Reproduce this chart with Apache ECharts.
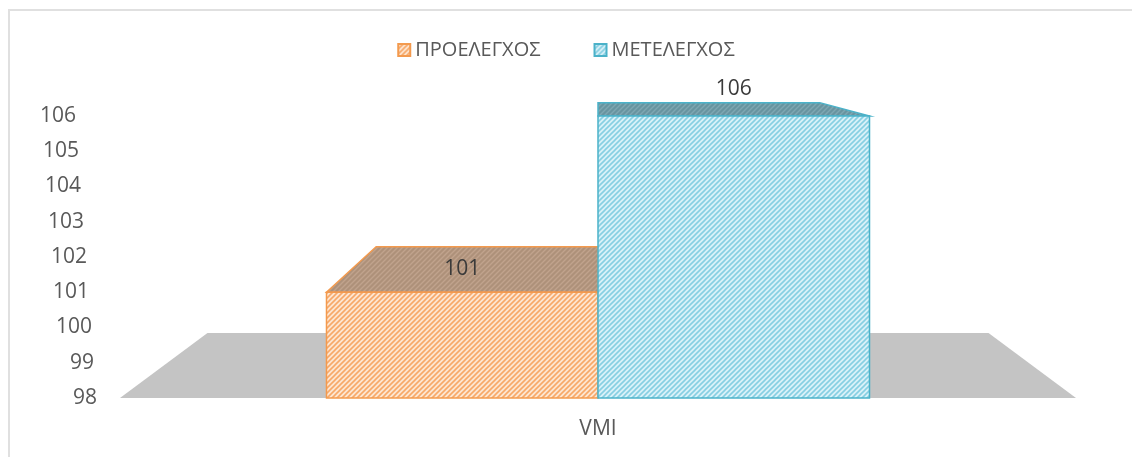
<!DOCTYPE html>
<html>
<head>
<meta charset="utf-8">
<script src="https://cdn.jsdelivr.net/npm/echarts@6/dist/echarts.min.js"></script>
<style>
  html, body { margin: 0; padding: 0; background: #ffffff; }
  #wrap { position: relative; width: 1132px; height: 457px; overflow: hidden; }
  #chart { position: absolute; left: 0; top: 0; width: 1132px; height: 457px; }
  #frame { position: absolute; left: 8px; top: 9px; right: -2px; bottom: -2px;
           border-left: 2px solid #e0e0e0; border-top: 2px solid #e0e0e0; pointer-events: none; }
</style>
</head>
<body>
<div id="wrap">
  <div id="chart"></div>
  <div id="frame"></div>
</div>
<script>
// ---- data ----
const categories = ['VMI'];
const seriesNames = ['ΠΡΟΕΛΕΓΧΟΣ', 'ΜΕΤΕΛΕΓΧΟΣ'];
const preValues = [101];
const postValues = [106];
const yTicks = [98, 99, 100, 101, 102, 103, 104, 105, 106];

// ---- style helpers ----
function hatch(bg, fg, size, lw) {
  const c = document.createElement('canvas');
  c.width = size; c.height = size;
  const g = c.getContext('2d');
  g.fillStyle = bg; g.fillRect(0, 0, size, size);
  g.strokeStyle = fg; g.lineWidth = lw;
  g.beginPath();
  g.moveTo(0, size); g.lineTo(size, 0);
  g.moveTo(-2, 2); g.lineTo(2, -2);
  g.moveTo(size - 2, size + 2); g.lineTo(size + 2, size - 2);
  g.stroke();
  return { image: c, repeat: 'repeat' };
}
const orangeFront = hatch('#fde6d1', '#f7a868', 5, 1.6);
const orangeTop = hatch('#ae917a', '#c0a38d', 5, 1.4);
const blueFront = hatch('#d9f1f8', '#86cfe2', 5, 1.6);
const blueTop = hatch('#6894a0', '#7ea7b2', 5, 1.4);
const orangeEdge = '#f39a4e';
const blueEdge = '#4bb2c9';

const yMin = yTicks[0], yMax = yTicks[yTicks.length - 1];
const BAR_FRAC = 0.284;   // bar width as share of category band
const DEPTH = 0.183;      // perspective depth factor
const VP_ABOVE = 73;      // vanishing point distance above plot top

function project(p, vp) {
  return [p[0] + DEPTH * (vp[0] - p[0]), p[1] + DEPTH * (vp[1] - p[1])];
}

function renderFloor(params, api) {
  const cat = api.value(0);
  const base = api.coord([cat, yMin]);
  const topY = api.coord([cat, yMax])[1];
  const band = api.size([1, 0])[0];
  const vp = [base[0], topY - VP_ABOVE];
  const fl = [base[0] - band / 2, base[1]];
  const fr = [base[0] + band / 2, base[1]];
  return {
    type: 'polygon',
    shape: { points: [fl, fr, project(fr, vp), project(fl, vp)] },
    style: { fill: '#c4c4c4' },
    z2: 0
  };
}

function makeBarRenderer(side, front, top, edge) {
  return function (params, api) {
    const cat = api.value(0), val = api.value(1);
    const base = api.coord([cat, yMin]);
    const tp = api.coord([cat, val]);
    const topY = api.coord([cat, yMax])[1];
    const band = api.size([1, 0])[0];
    const bw = band * BAR_FRAC;
    const vp = [base[0], topY - VP_ABOVE];
    const x0 = base[0] + side * bw, x1 = x0 + bw;
    const fl = [x0, tp[1]], fr = [x1, tp[1]];
    const bl = project(fl, vp), br = project(fr, vp);
    const depth = tp[1] - bl[1];
    const labelY = depth > 36 ? (tp[1] + bl[1]) / 2 : bl[1] - 14;
    return {
      type: 'group',
      children: [
        {
          type: 'polygon',
          shape: { points: [fl, fr, br, bl] },
          style: { fill: top, stroke: edge, lineWidth: 1.5 }
        },
        {
          type: 'polygon',
          shape: { points: [fl, fr, [x1, base[1]], [x0, base[1]]] },
          style: { fill: front, stroke: edge, lineWidth: 1.5 }
        },
        {
          type: 'text',
          style: {
            text: String(val), x: (x0 + x1) / 2, y: labelY,
            align: 'center', verticalAlign: 'middle',
            fill: '#3a3a3a', font: '21px "Open Sans", sans-serif'
          }
        }
      ]
    };
  };
}

const richTicks = {};
yTicks.forEach(function (v, i) {
  richTicks['t' + i] = {
    fontSize: 21, fontFamily: 'Open Sans', color: '#595959',
    padding: [0, Math.round((v - yMin) * 2.6), 0, 0]
  };
});

const chart = echarts.init(document.getElementById('chart'), null, { renderer: 'canvas' });
chart.setOption({
  animation: false,
  backgroundColor: '#ffffff',
  legend: {
    data: seriesNames,
    top: 35,
    left: 'center',
    icon: 'rect',
    itemWidth: 12,
    itemHeight: 12,
    itemGap: 53,
    textStyle: { fontSize: 20, fontFamily: 'Open Sans', color: '#595959' }
  },
  grid: { left: 120, right: 56, top: 116, bottom: 59 },
  xAxis: {
    type: 'category',
    data: categories,
    axisLine: { show: false },
    axisTick: { show: false },
    axisLabel: { margin: 21, fontSize: 21, fontFamily: 'Open Sans', color: '#595959' }
  },
  yAxis: {
    type: 'value',
    min: yMin, max: yMax, interval: 1,
    axisLine: { show: false },
    axisTick: { show: false },
    splitLine: { show: false },
    axisLabel: {
      margin: 23,
      formatter: function (v) { return '{t' + yTicks.indexOf(v) + '|' + v + '}'; },
      rich: richTicks
    }
  },
  series: [
    {
      type: 'custom', name: 'floor', clip: false, silent: true,
      renderItem: renderFloor,
      data: categories.map(function (c, i) { return [i]; }),
      z: 1
    },
    {
      type: 'custom', name: seriesNames[0], clip: false,
      itemStyle: { color: orangeFront, borderColor: orangeEdge, borderWidth: 1 },
      renderItem: makeBarRenderer(-1, orangeFront, orangeTop, orangeEdge),
      data: preValues.map(function (v, i) { return [i, v]; }),
      z: 2
    },
    {
      type: 'custom', name: seriesNames[1], clip: false,
      itemStyle: { color: blueFront, borderColor: blueEdge, borderWidth: 1 },
      renderItem: makeBarRenderer(0, blueFront, blueTop, blueEdge),
      data: postValues.map(function (v, i) { return [i, v]; }),
      z: 3
    }
  ]
});
</script>
</body>
</html>
